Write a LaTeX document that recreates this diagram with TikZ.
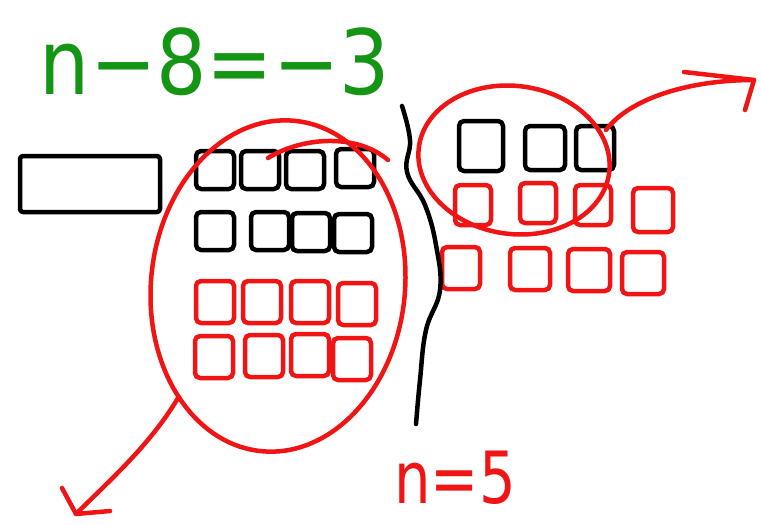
\documentclass[tikz,border=0pt]{standalone}
\usepackage{fontspec}
\setmainfont{DejaVu Sans}
\usetikzlibrary{shapes.geometric}
\definecolor{penred}{RGB}{240,20,20}
\definecolor{pengreen}{RGB}{20,150,20}
\tikzset{
  pen/.style={line width=4.5pt, line cap=round, line join=round},
  blk/.style={draw=black, pen, rounded corners=5pt, minimum width=38pt, minimum height=38pt, inner sep=0pt},
  rsq/.style={draw=penred, pen, rounded corners=5pt, minimum width=38pt, minimum height=42pt, inner sep=0pt},
  redpen/.style={draw=penred, pen},
}
\begin{document}
\begin{tikzpicture}[x=1pt,y=-1pt]
\useasboundingbox (0,0) rectangle (761,525);
\fill[white] (0,0) rectangle (761,525);

% equations
\node[text=pengreen, font=\fontsize{90}{90}\selectfont, inner sep=0pt, xscale=0.88] (eq) at (215,62) {n−8=−3};
\node[text=penred, font=\fontsize{72}{72}\selectfont, inner sep=0pt, xscale=0.8] (ans) at (455,478) {n=5};

% black rectangle
\node[draw=black, pen, rounded corners=3pt, minimum width=140pt, minimum height=56pt, inner sep=0pt] (bar) at (90,184) {};

% left black squares
\node[blk] (b1) at (215,170) {};
\node[blk] (b2) at (260,170) {};
\node[blk] (b3) at (305,170) {};
\node[blk] (b4) at (355,168) {};
\node[blk] (b5) at (215,231) {};
\node[blk] (b6) at (270,231) {};
\node[blk] (b7) at (311,232) {};
\node[blk] (b8) at (353,233) {};

% left red squares
\node[rsq] (r1) at (215,302) {};
\node[rsq] (r2) at (262,302) {};
\node[rsq] (r3) at (310,302) {};
\node[rsq] (r4) at (357,304) {};
\node[rsq] (r5) at (214,357) {};
\node[rsq] (r6) at (264,356) {};
\node[rsq] (r7) at (310,355) {};
\node[rsq] (r8) at (352,359) {};

% right black squares
\node[blk, minimum width=44pt, minimum height=50pt] (k1) at (481,146) {};
\node[blk, minimum width=40pt, minimum height=44pt] (k2) at (545,148) {};
\node[blk, minimum width=38pt, minimum height=44pt] (k3) at (595,148) {};

% right red squares
\node[rsq, minimum width=36pt, minimum height=40pt] (s1) at (473,205) {};
\node[rsq, minimum width=36pt, minimum height=40pt] (s2) at (538,203) {};
\node[rsq, minimum width=36pt, minimum height=40pt] (s3) at (593,205) {};
\node[rsq, minimum width=40pt, minimum height=44pt] (s4) at (653,210) {};
\node[rsq, minimum width=38pt, minimum height=42pt] (s5) at (461,268) {};
\node[rsq, minimum width=40pt, minimum height=42pt] (s6) at (530,269) {};
\node[rsq, minimum width=42pt, minimum height=42pt] (s7) at (589,270) {};
\node[rsq, minimum width=42pt, minimum height=42pt] (s8) at (643,273) {};

% divider
\draw[pen] plot[smooth, tension=0.7] coordinates {(402,106) (410,140) (407,172) (425,205) (436,245) (440,290) (426,330) (420,380) (416,424)};

% left circle
\node[draw=penred, pen, ellipse, minimum width=254pt, minimum height=332pt, rotate=-6] (lc) at (278,286) {};
\draw[redpen] (268,158) .. controls (300,138) and (355,132) .. (388,160);

% right circle
\node[draw=penred, pen, ellipse, minimum width=192pt, minimum height=148pt, rotate=-8] (rc) at (514,160) {};

% left arrow
\coordinate (la0) at (178,398);
\coordinate (la1) at (76,514);
\coordinate (lh1) at (62,488);
\coordinate (lh2) at (110,511);
\draw[redpen] (la0) .. controls (150,445) and (110,480) .. (la1);
\draw[redpen] (lh1) -- (la1) -- (lh2);

% right arrow
\coordinate (ra0) at (606,130);
\coordinate (ra1) at (754,80);
\coordinate (rh1) at (684,72);
\coordinate (rh2) at (745,110);
\draw[redpen] (ra0) .. controls (630,98) and (690,80) .. (ra1);
\draw[redpen] (rh1) -- (ra1) -- (rh2);
\end{tikzpicture}
\end{document}
